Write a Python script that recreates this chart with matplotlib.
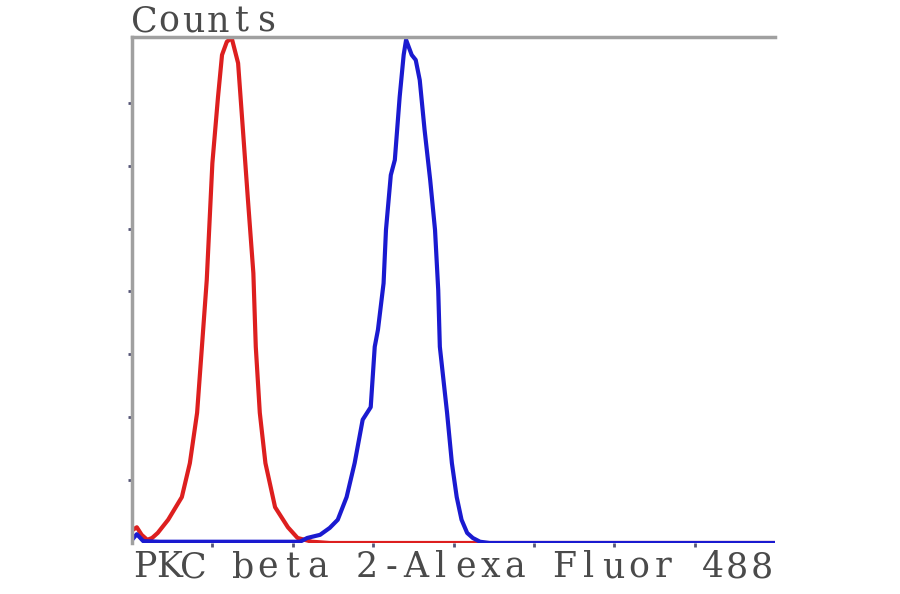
import matplotlib
matplotlib.use('Agg')
import matplotlib.pyplot as plt

# Histogram outlines (x in decades 0-8, y in tick units)
red_x = [0.0, 0.06, 0.12, 0.19, 0.25, 0.32, 0.45, 0.62, 0.72, 0.81, 0.87, 0.93,
         0.96, 1.00, 1.07, 1.12, 1.18, 1.24, 1.32, 1.38, 1.44, 1.51, 1.54, 1.59,
         1.66, 1.78, 1.94, 2.06, 2.24, 2.46, 8.0]
red_y = [0.20, 0.25, 0.13, 0.05, 0.08, 0.16, 0.37, 0.73, 1.27, 2.07, 3.12, 4.18,
         4.98, 6.04, 7.09, 7.76, 7.97, 8.03, 7.63, 6.57, 5.50, 4.29, 3.12, 2.07,
         1.27, 0.57, 0.25, 0.08, 0.02, 0.0, 0.0]

blue_x = [0.0, 0.06, 0.14, 0.35, 2.09, 2.18, 2.34, 2.46, 2.56, 2.67, 2.77, 2.87,
          2.97, 3.02, 3.06, 3.13, 3.16, 3.22, 3.27, 3.33, 3.38, 3.41, 3.48, 3.53,
          3.58, 3.64, 3.71, 3.77, 3.81, 3.83, 3.92, 3.98, 4.04, 4.10, 4.17, 4.24,
          4.33, 4.45, 8.0]
blue_y = [0.05, 0.14, 0.03, 0.02, 0.02, 0.08, 0.13, 0.24, 0.37, 0.73, 1.27, 1.96,
          2.16, 3.12, 3.39, 4.13, 4.98, 5.85, 6.09, 7.09, 7.76, 8.0, 7.76, 7.68,
          7.36, 6.57, 5.77, 4.98, 4.02, 3.12, 2.07, 1.27, 0.73, 0.37, 0.16, 0.08,
          0.02, 0.0, 0.0]

x_label = 'PKC beta 2-Alexa Fluor 488'
y_label = 'Counts'
x_ticks = [1, 2, 3, 4, 5, 6, 7]
y_ticks = [1, 2, 3, 4, 5, 6, 7]

W, H = 900, 594
fig = plt.figure(figsize=(W / 100, H / 100), dpi=100)
ax = fig.add_axes([132 / W, 1 - 543 / H, (775 - 132) / W, (543 - 37) / H])

ax.plot(red_x, red_y, color='#dd1f1f', lw=3, solid_joinstyle='round')
ax.plot(blue_x, blue_y, color='#1a1ad0', lw=3, solid_joinstyle='round')

ax.set_xlim(0, 8)
ax.set_ylim(0, 8.045)
ax.set_xticks(x_ticks)
ax.set_yticks(y_ticks)
ax.set_xticklabels([])
ax.set_yticklabels([])
ax.tick_params(axis='both', direction='out', length=3, width=2, color='#555577')

ax.spines['right'].set_visible(False)
ax.spines['bottom'].set_visible(False)
for side in ['left', 'top']:
    ax.spines[side].set_color('#a0a0a0')
    ax.spines[side].set_linewidth(2.5)


def spaced_text(s, x0, base, pitch):
    # monospaced look: one character per fixed cell
    for i, ch in enumerate(s):
        fig.text((x0 + pitch * (i + 0.5)) / W, 1 - base / H, ch,
                 ha='center', va='baseline', fontsize=25,
                 family='DejaVu Serif', color='#4a4a4a')


spaced_text(y_label, 132, 32, 24.5)
spaced_text(x_label, 132, 577, 24.7)

fig.savefig('out.png', dpi=100)
